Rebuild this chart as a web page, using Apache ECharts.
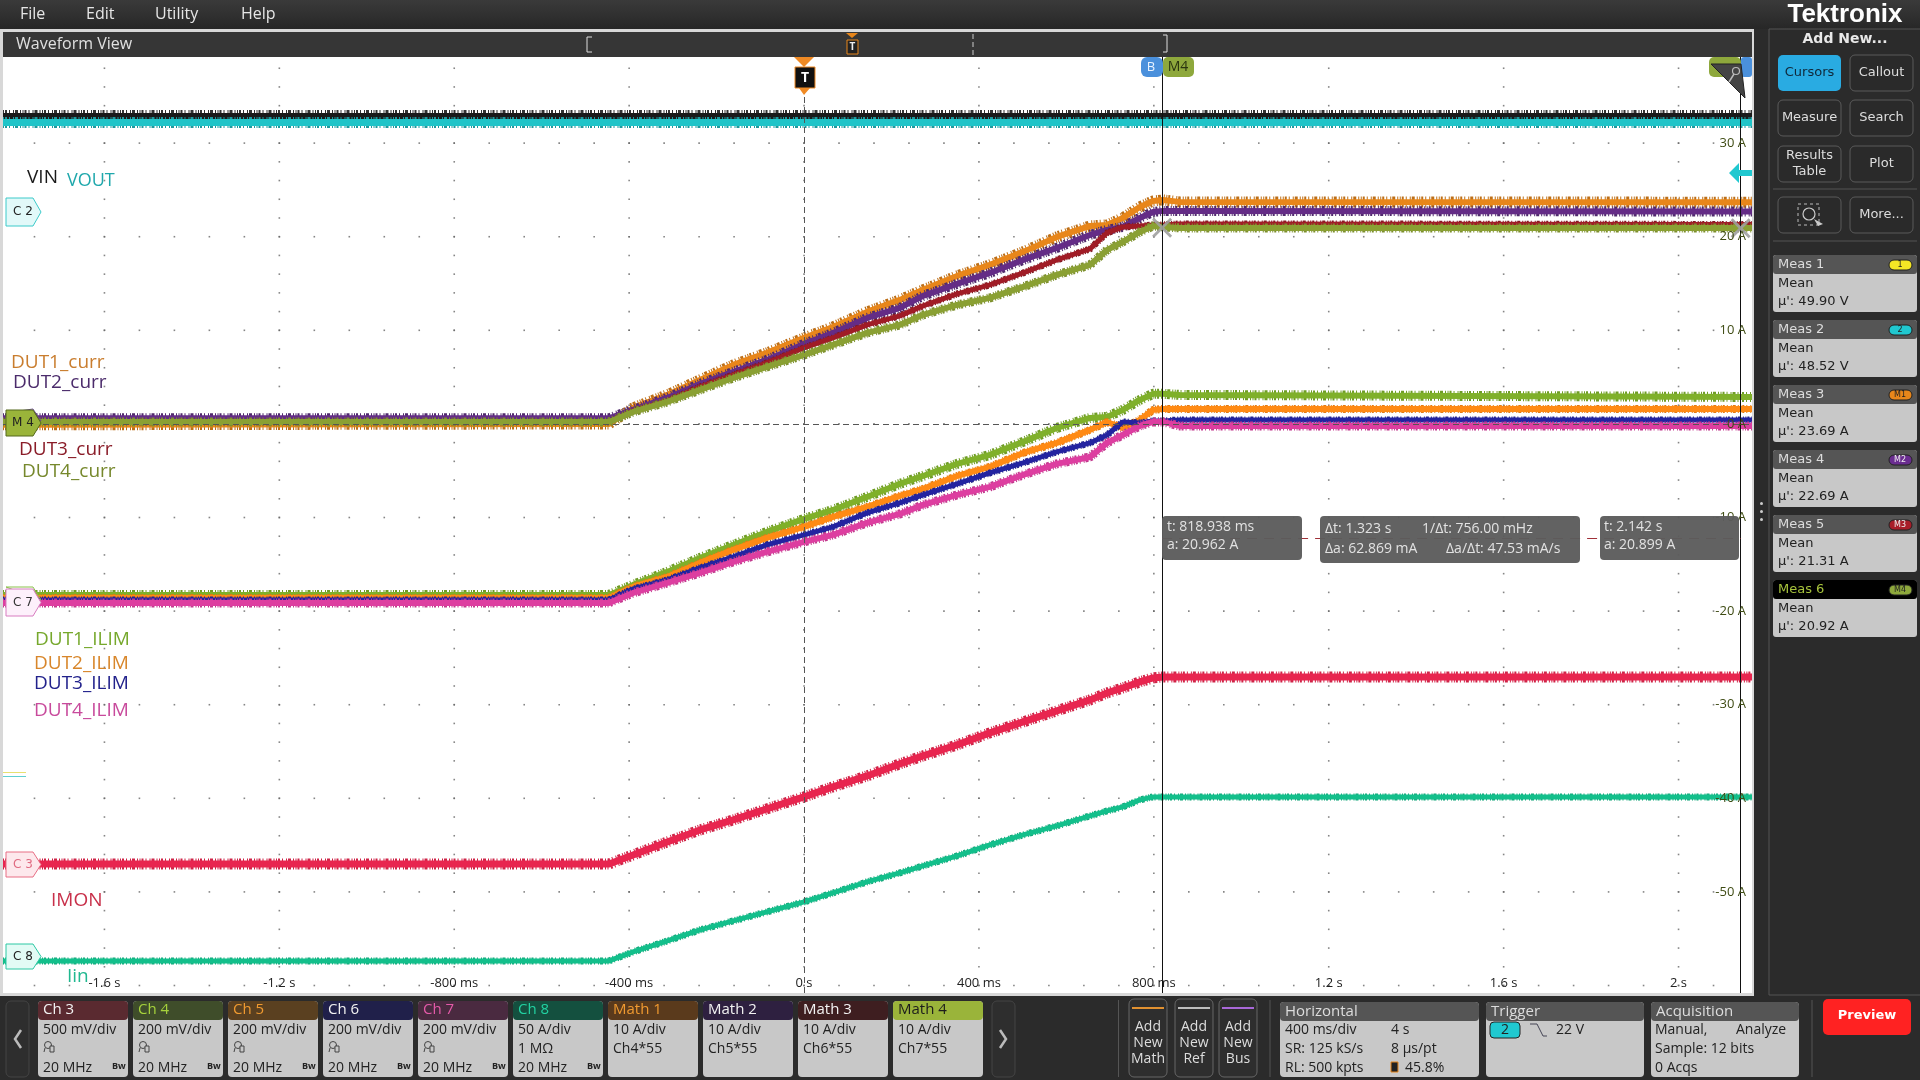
<!DOCTYPE html>
<html>
<head>
<meta charset="utf-8">
<title>Waveform View</title>
<style>
  html, body { margin: 0; padding: 0; background: #2b2b2b; }
  #scope { width: 1920px; height: 1080px; }
</style>
<script src="https://cdn.jsdelivr.net/npm/echarts@6/dist/echarts.min.js"></script>
</head>
<body>
<div id="scope"></div>
<script>
// time base: seconds, 400 ms/div, 45.8% trigger position
const timeMin = -1.832;
const timeMax = 2.168;
const ampMin = -60.8;
const ampMax = 39.2;

const xTicks = [-1.6, -1.2, -0.8, -0.4, 0, 0.4, 0.8, 1.2, 1.6, 2];
const xTickLabels = ['-1.6 s', '-1.2 s', '-800 ms', '-400 ms', '0 s', '400 ms', '800 ms', '1.2 s', '1.6 s', '2 s'];
const yTicks = [30, 20, 10, 0, -10, -20, -30, -40, -50];
const yTickLabels = ['30 A', '20 A', '10 A', '0 A', '-10 A', '-20 A', '-30 A', '-40 A', '-50 A'];
const yGridRows = [30, 20, 10, 0, -10, -20, -30, -40, -50, -60];

// breakpoints shared by all ramping traces
const tNodes = [-1.832, -0.446, -0.391, -0.313, -0.238, -0.162, -0.085, 0, 0.066, 0.144, 0.219, 0.272,
  0.35, 0.425, 0.501, 0.578, 0.654, 0.693, 0.729, 0.768, 0.798, 0.821, 0.859, 2.168];

// values, in A on the M4 scale
const dut1Curr = [-0.1, 0, 1.71, 3.1, 4.7, 6.3, 7.59, 9.19, 10.36, 11.97, 13.25, 14.32,
  15.81, 16.99, 18.38, 19.98, 21.15, 21.26, 22.01, 23.18, 23.82, 23.93, 23.72, 23.69];
const dut2Curr = [0.6, 0.6, 1.5, 2.78, 4.27, 5.56, 6.84, 8.55, 9.72, 11.32, 12.39, 13.68,
  14.96, 16.13, 17.52, 18.8, 20.19, 20.73, 21.05, 22.01, 22.65, 22.76, 22.76, 22.69];
const dut3Curr = [0.21, 0.21, 1.39, 2.46, 3.95, 5.24, 6.52, 8.12, 9.19, 10.58, 11.54, 12.61,
  13.89, 14.85, 16.13, 17.52, 18.7, 20.41, 21.05, 21.15, 21.26, 21.26, 21.37, 21.31];
const dut4Curr = [0.21, 0.21, 1.28, 2.35, 3.63, 4.91, 6.09, 7.37, 8.44, 9.72, 10.58, 11.65,
  12.71, 13.46, 14.64, 15.92, 16.99, 18.59, 19.44, 20.51, 21.15, 21.05, 20.94, 20.92];

const dut1Ilim = [-18.27, -18.27, -17.2, -15.81, -14.32, -12.93, -11.54, -10.15, -9.19, -7.8, -6.41, -5.56,
  -4.27, -3.31, -1.92, -0.43, 0.64, 0.75, 1.5, 2.56, 3.21, 3.21, 3.1, 2.88];
const dut2Ilim = [-18.59, -18.59, -17.41, -16.35, -14.85, -13.46, -12.18, -11.0, -9.94, -8.87, -7.69, -6.94,
  -5.56, -4.59, -3.1, -2.03, -0.64, 0.21, -0.43, 0.43, 1.5, 1.6, 1.6, 1.6];
const dut3Ilim = [-18.8, -18.8, -17.63, -16.67, -15.38, -14.21, -12.93, -11.86, -11.0, -9.51, -8.44, -7.59,
  -6.41, -5.24, -4.17, -2.99, -2.03, -1.18, 0.21, 0.11, 0.32, 0.32, 0.43, 0.43];
const dut4Ilim = [-19.12, -19.12, -18.06, -16.99, -15.92, -14.74, -13.68, -12.61, -11.86, -10.58, -9.62, -8.65,
  -7.59, -6.73, -5.45, -4.27, -3.53, -2.03, -1.18, -0.21, 0.21, 0.21, -0.21, -0.21];

const imon = [-47.01, -47.01, -46.05, -44.66, -43.38, -42.31, -41.13, -39.85, -38.78, -37.61, -36.32, -35.47,
  -34.29, -33.01, -31.84, -30.66, -29.49, -28.74, -28.21, -27.56, -27.14, -27.03, -27.03, -27.03];
const iin = [-57.37, -57.37, -56.41, -55.24, -54.06, -53.1, -52.14, -51.07, -50.11, -48.93, -47.97, -47.22,
  -46.15, -44.98, -43.91, -42.95, -41.88, -41.35, -40.92, -40.17, -39.85, -39.85, -39.85, -39.85];

const vinLevel = [32.9, 32.9];
const voutLevel = [32.2, 32.2];
const railTimes = [-1.832, 2.168];

// cursors: [time, amps]
const cursorA = [0.8189, 20.962];
const cursorB = [2.142, 20.899];
const cursorBarLevel = -12.2;

const channels = [
  { name: 'Ch 3', head: '#5a2a30', ink: '#f2f2f2', lines: ['500 mV/div', '', '20 MHz'] },
  { name: 'Ch 4', head: '#3f4d2a', ink: '#a6d23c', lines: ['200 mV/div', '', '20 MHz'] },
  { name: 'Ch 5', head: '#5a4020', ink: '#f09a30', lines: ['200 mV/div', '', '20 MHz'] },
  { name: 'Ch 6', head: '#20204a', ink: '#f2f2f2', lines: ['200 mV/div', '', '20 MHz'] },
  { name: 'Ch 7', head: '#4a2a40', ink: '#e45aa8', lines: ['200 mV/div', '', '20 MHz'] },
  { name: 'Ch 8', head: '#14503f', ink: '#22d2a2', lines: ['50 A/div', '1 MΩ', '20 MHz'] },
  { name: 'Math 1', head: '#5a3a1c', ink: '#f09a30', lines: ['10 A/div', 'Ch4*55', ''] },
  { name: 'Math 2', head: '#2e2040', ink: '#f2f2f2', lines: ['10 A/div', 'Ch5*55', ''] },
  { name: 'Math 3', head: '#3e1e20', ink: '#f2f2f2', lines: ['10 A/div', 'Ch6*55', ''] },
  { name: 'Math 4', head: '#9ab43a', ink: '#1c1c1c', lines: ['10 A/div', 'Ch7*55', ''] }
];

const measurements = [
  { name: 'Meas 1', value: "µ': 49.90 V", badge: '1', color: '#f5e625', ink: '#222' },
  { name: 'Meas 2', value: "µ': 48.52 V", badge: '2', color: '#20c8d0', ink: '#222' },
  { name: 'Meas 3', value: "µ': 23.69 A", badge: 'M1', color: '#e8861a', ink: '#222' },
  { name: 'Meas 4', value: "µ': 22.69 A", badge: 'M2', color: '#6a2d90', ink: '#eee' },
  { name: 'Meas 5', value: "µ': 21.31 A", badge: 'M3', color: '#a81c28', ink: '#eee' },
  { name: 'Meas 6', value: "µ': 20.92 A", badge: 'M4', color: '#8ea83c', ink: '#222', active: true }
];

const FONT = '"Open Sans", sans-serif';
const PANEL_FONT = '"DejaVu Sans", sans-serif';

function pairs(times, values) {
  return times.map((t, i) => [t, values[i]]);
}

// one trace is a jagged comb behind a solid core, so the band looks sampled
function trace(name, times, values, core, fuzz, coreWidth, fuzzWidth) {
  const data = pairs(times, values);
  const common = { type: 'line', showSymbol: false, silent: true, animation: false, data: data };
  return [
    Object.assign({}, common, {
      name: name + ' envelope',
      lineStyle: { color: fuzz, width: fuzzWidth, cap: 'butt', join: 'bevel', type: [1, 1, 2, 2, 1, 3, 1, 1, 3, 2, 1, 1.5] }
    }),
    Object.assign({}, common, {
      name: name,
      lineStyle: { color: core, width: coreWidth, cap: 'butt' }
    })
  ];
}

// dotted graticule, built from the tick lists
function graticule() {
  const dots = [];
  xTicks.forEach(t => {
    for (let a = 38; a >= -60; a -= 2) dots.push([t, a]);
  });
  yGridRows.forEach(a => {
    for (let t = -1.76; t <= 2.16; t += 0.08) dots.push([t, a]);
  });
  return dots;
}

function tickLabel(values, labels) {
  return v => {
    const i = values.findIndex(x => Math.abs(x - v) < 1e-6);
    return i < 0 ? '' : labels[i];
  };
}

// ---- chrome helpers -------------------------------------------------
const chrome = [];

function box(x, y, w, h, fill, r, stroke, z) {
  chrome.push({
    type: 'rect', silent: true, z: z || 20,
    shape: { x: x, y: y, width: w, height: h, r: r || 0 },
    style: { fill: fill, stroke: stroke || null, lineWidth: stroke ? 1 : 0 }
  });
}

function label(x, y, s, color, size, opts) {
  const o = opts || {};
  chrome.push({
    type: 'text', silent: true, z: o.z || 30, x: x, y: y,
    style: {
      text: s, fill: color,
      fontFamily: o.family || FONT, fontSize: size, fontWeight: o.weight || 'normal',
      align: o.align || 'left', textAlign: o.align || 'left',
      verticalAlign: 'middle', textVerticalAlign: 'middle'
    }
  });
}

function poly(points, fill, stroke, z) {
  chrome.push({
    type: 'polygon', silent: true, z: z || 40,
    shape: { points: points },
    style: { fill: fill, stroke: stroke || null, lineWidth: stroke ? 1 : 0 }
  });
}

function path(points, stroke, width, z, dash) {
  chrome.push({
    type: 'polyline', silent: true, z: z || 30,
    shape: { points: points },
    style: { stroke: stroke, lineWidth: width || 1, fill: null, lineDash: dash || null }
  });
}

function tag(y, h, fill, stroke, text, ink) {
  const x = 6, w = 35, m = y + h / 2;
  poly([[x, y], [x + w - 8, y], [x + w, m], [x + w - 8, y + h], [x, y + h]], fill, stroke, 40);
  label(x + 17, m, text, ink, 12, { align: 'center', z: 41, family: PANEL_FONT });
}

function button(x, y, w, h, lines, fill, ink) {
  box(x, y, w, h, fill || '#2a2a2a', 5, fill ? null : '#5a5a5a');
  const top = y + h / 2 - (lines.length - 1) * 8;
  lines.forEach((s, i) => label(x + w / 2, top + i * 16, s, ink || '#ddd', 13, { align: 'center', family: PANEL_FONT }));
}

function probeIcon(x, y) {
  chrome.push({ type: 'circle', silent: true, z: 30, shape: { cx: x + 5, cy: y - 2, r: 3.5 }, style: { fill: null, stroke: '#444', lineWidth: 1 } });
  box(x + 7, y - 1, 4, 6, '#c8c8c8', 0, '#444', 31);
  path([[x + 2, y + 1], [x + 1, y + 5]], '#444', 1);
}

function buildChrome() {
  // menu bar
  chrome.push({
    type: 'rect', silent: true, z: 5, shape: { x: 0, y: 0, width: 1920, height: 29 },
    style: { fill: new echarts.graphic.LinearGradient(0, 0, 0, 1, [{ offset: 0, color: '#3a3a3a' }, { offset: 1, color: '#272727' }]) }
  });
  label(20, 14, 'File', '#e6e6e6', 16);
  label(86, 14, 'Edit', '#e6e6e6', 16);
  label(155, 14, 'Utility', '#e6e6e6', 16);
  label(241, 14, 'Help', '#e6e6e6', 16);

  // frame round the view and its title bar
  box(0, 29, 3, 966, '#d8d8d8', 0, null, 6);
  box(0, 29, 1754, 3, '#d8d8d8', 0, null, 6);
  box(1752, 29, 2, 966, '#d8d8d8', 0, null, 6);
  box(0, 993, 1754, 3, '#d8d8d8', 0, null, 6);
  box(3, 32, 1749, 25, '#363636', 0, null, 6);
  label(16, 44, 'Waveform View', '#e0e0e0', 16);

  // overview strip marks
  path([[592, 37], [587, 37], [587, 52], [592, 52]], '#ddd', 1);
  path([[973, 34], [973, 56]], '#ccc', 1, 30, [5, 3]);
  path([[1163, 35], [1167, 35], [1167, 52], [1163, 52]], '#ddd', 1, 30);
  poly([[846, 33], [858, 33], [852, 38]], '#e8861a');
  box(847, 40, 11, 14, '#222', 0, '#e8861a', 40);
  label(852.5, 47, 'T', '#eee', 10, { align: 'center', z: 41, weight: 'bold' });

  // trigger flag
  poly([[794, 57], [814, 57], [804, 67]], '#f08a24');
  box(795, 67, 20, 21, '#111', 0, '#f08a24', 40);
  label(805, 78, 'T', '#fff', 14, { align: 'center', z: 41, weight: 'bold' });
  poly([[799, 88], [810, 88], [804, 95]], '#f08a24');

  // cursor flags at the top of the plot
  box(1141, 57, 22, 20, '#4a90dc', 6, null, 40);
  label(1151, 67, 'B', '#e8f2ff', 13, { align: 'center', z: 41 });
  box(1163, 57, 31, 20, '#8ea83c', 5, null, 40);
  label(1178, 67, 'M4', '#2a3410', 14, { align: 'center', z: 41 });
  box(1709, 57, 32, 20, '#8ea83c', 5, null, 40);
  box(1741, 57, 11, 20, '#4a90dc', 3, null, 40);
  poly([[1711, 64], [1741, 64], [1745, 98]], '#444', '#222', 42);
  chrome.push({ type: 'circle', silent: true, z: 43, shape: { cx: 1736, cy: 71, r: 3.5 }, style: { fill: null, stroke: '#bbb', lineWidth: 1.2 } });
  path([[1734, 74], [1729, 82]], '#bbb', 1.5, 43);

  // channel 2 offset arrow on the right edge
  poly([[1729, 173], [1739, 163], [1739, 170], [1752, 170], [1752, 176], [1739, 176], [1739, 183]], '#20c8d0');

  // channel handles
  tag(198, 28, '#e2f9f9', '#3ccaca', 'C 2', '#222');
  poly([[6, 413], [33, 409], [41, 421]], 'none', '#6a4a90', 39);
  tag(410, 26, '#9ab43a', '#55691c', 'M 4', '#222');
  poly([[6, 587], [33, 587], [41, 600]], 'none', '#8ac04a', 39);
  tag(589, 27, '#fdf0fb', '#d87cc0', 'C 7', '#333');
  tag(852, 25, '#fde8ec', '#e86e84', 'C 3', '#e06a80');
  tag(944, 25, '#e2fbf5', '#2cc8a4', 'C 8', '#222');

  // trace names
  label(27, 178, 'VIN', '#1a1a1a', 19);
  label(67, 181, 'VOUT', '#1fa8ac', 18);
  label(11, 363, 'DUT1_curr', '#c97d2e', 19);
  label(13, 383, 'DUT2_curr', '#4b2b6b', 19);
  label(19, 450, 'DUT3_curr', '#8a1c28', 19);
  label(22, 472, 'DUT4_curr', '#76882c', 19);
  label(35, 640, 'DUT1_ILIM', '#76a82c', 19);
  label(34, 664, 'DUT2_ILIM', '#d8862a', 19);
  label(34, 684, 'DUT3_ILIM', '#22228c', 19);
  label(34, 711, 'DUT4_ILIM', '#c84a9c', 19);
  label(51, 901, 'IMON', '#c8304a', 19);
  label(67, 977, 'Iin', '#20b890', 19);

  // stray reference ticks on the left edge
  box(3, 772, 23, 1, '#e8e070', 0, null, 30);
  box(3, 776, 23, 1, '#60d0d0', 0, null, 30);

  // cursor readouts
  const read = 'rgba(92,92,92,0.96)';
  box(1162, 516, 140, 44, read, 4, null, 60);
  label(1167, 527, 't: 818.938 ms', '#e2e2e2', 14, { z: 61 });
  label(1167, 545, 'a: 20.962 A', '#e2e2e2', 14, { z: 61 });
  box(1320, 516, 260, 47, read, 4, null, 60);
  label(1325, 529, 'Δt: 1.323 s', '#e2e2e2', 14, { z: 61 });
  label(1422, 529, '1/Δt: 756.00 mHz', '#e2e2e2', 14, { z: 61 });
  label(1325, 549, 'Δa: 62.869 mA', '#e2e2e2', 14, { z: 61 });
  label(1446, 549, 'Δa/Δt: 47.53 mA/s', '#e2e2e2', 14, { z: 61 });
  box(1600, 516, 139, 44, read, 4, null, 60);
  label(1604, 527, 't: 2.142 s', '#e2e2e2', 14, { z: 61 });
  label(1604, 545, 'a: 20.899 A', '#e2e2e2', 14, { z: 61 });

  // right hand panel
  path([[1920, 29], [1769, 29], [1769, 995], [1920, 995]], '#555', 1);
  label(1845, 15, 'Tektronix', '#fff', 26, { align: 'center', weight: 'bold', family: '"Liberation Sans", sans-serif' });
  label(1845, 39, 'Add New...', '#e8e8e8', 14, { align: 'center', weight: 'bold', family: PANEL_FONT });
  button(1778, 55, 63, 36, ['Cursors'], '#29abe2', '#10283a');
  button(1850, 55, 63, 36, ['Callout']);
  button(1778, 100, 63, 36, ['Measure']);
  button(1850, 100, 63, 36, ['Search']);
  button(1778, 146, 63, 36, ['Results', 'Table']);
  button(1850, 146, 63, 36, ['Plot']);
  path([[1773, 189], [1917, 189]], '#555', 1);
  button(1778, 197, 63, 36, []);
  button(1850, 197, 63, 36, ['More...']);
  path([[1773, 241], [1917, 241]], '#555', 1);
  box(1798, 204, 21, 21, 'none', 0, '#bbb', 31);
  chrome[chrome.length - 1].style.lineDash = [3, 3];
  chrome.push({ type: 'circle', silent: true, z: 32, shape: { cx: 1809, cy: 214, r: 6 }, style: { fill: '#2a2a2a', stroke: '#ccc', lineWidth: 1.2 } });
  poly([[1814, 219], [1823, 224], [1818, 226]], '#ccc', null, 32);

  measurements.forEach((m, i) => {
    const y = 255 + i * 65;
    box(1773, y, 144, 57, '#c8c8c8', 3);
    box(1773, y, 144, 19, m.active ? '#000' : '#555', 3, null, 21);
    label(1778, y + 10, m.name, m.active ? '#a6c23c' : '#ddd', 13, { family: PANEL_FONT });
    box(1889, y + 5, 23, 10, m.color, 5, '#222', 22);
    label(1900, y + 10, m.badge, m.ink, 8, { align: 'center', family: PANEL_FONT });
    label(1778, y + 29, 'Mean', '#222', 13, { family: PANEL_FONT });
    label(1778, y + 47, m.value, '#222', 13, { family: PANEL_FONT });
  });
  [503, 511, 519].forEach(y => box(1760, y - 1, 3, 3, '#ccc', 1.5));

  // badge strip along the bottom
  box(6, 1001, 23, 76, '#2e2e2e', 5, '#444');
  path([[21, 1030], [15, 1039], [21, 1048]], '#bbb', 2.5);
  channels.forEach((c, i) => {
    const x = 38 + i * 95;
    box(x, 1001, 90, 76, '#c8c8c8', 4);
    box(x, 1001, 90, 19, c.head, 4, null, 21);
    label(x + 5, 1010, c.name, c.ink, 15);
    label(x + 5, 1030, c.lines[0], '#222', 14);
    if (c.lines[1]) label(x + 5, 1049, c.lines[1], '#222', 14);
    else probeIcon(x + 5, 1047);
    if (c.lines[2]) {
      label(x + 5, 1068, c.lines[2], '#222', 14);
      label(x + 74, 1066, 'Bw', '#222', 9, { weight: 'bold' });
    }
  });
  box(992, 1001, 23, 76, '#2e2e2e', 5, '#444');
  path([[1000, 1030], [1006, 1039], [1000, 1048]], '#bbb', 2.5);

  path([[1118.5, 1000], [1118.5, 1077]], '#555', 1);
  [['Math', '#e09030', 1129], ['Ref', '#bdbdbd', 1175], ['Bus', '#a868d8', 1219]].forEach(a => {
    box(a[2], 999, 38, 78, '#2e2e2e', 5, '#666');
    box(a[2] + 3, 1007, 32, 2, a[1], 0, null, 31);
    label(a[2] + 19, 1027, 'Add', '#ddd', 14, { align: 'center' });
    label(a[2] + 19, 1043, 'New', '#ddd', 14, { align: 'center' });
    label(a[2] + 19, 1059, a[0], '#ddd', 14, { align: 'center' });
  });
  path([[1270, 1000], [1270, 1077]], '#555', 1);

  const sect = (x, w, title) => {
    box(x, 1002, w, 75, '#c8c8c8', 4);
    box(x, 1002, w, 19, '#555', 4, null, 21);
    label(x + 5, 1012, title, '#ddd', 15);
  };
  sect(1280, 199, 'Horizontal');
  label(1285, 1030, '400 ms/div', '#222', 14);
  label(1391, 1030, '4 s', '#222', 14);
  label(1285, 1049, 'SR: 125 kS/s', '#222', 14);
  label(1391, 1049, '8 µs/pt', '#222', 14);
  label(1285, 1068, 'RL: 500 kpts', '#222', 14);
  box(1391, 1062, 7, 10, '#222', 0, '#e8861a', 31);
  label(1405, 1068, '45.8%', '#222', 14);

  sect(1486, 158, 'Trigger');
  box(1490, 1022, 30, 16, '#20c8d0', 4, '#222', 31);
  label(1505, 1030, '2', '#222', 14, { align: 'center', z: 32 });
  path([[1530, 1024], [1537, 1024], [1543, 1036], [1547, 1036]], '#445', 1);
  label(1556, 1030, '22 V', '#222', 14);

  sect(1651, 148, 'Acquisition');
  label(1655, 1030, 'Manual,', '#222', 14);
  label(1736, 1030, 'Analyze', '#222', 14);
  label(1655, 1049, 'Sample: 12 bits', '#222', 14);
  label(1655, 1068, '0 Acqs', '#222', 14);

  path([[1812, 1000], [1812, 1077]], '#555', 1);
  box(1823, 999, 88, 36, '#ff2222', 5);
  label(1867, 1016, 'Preview', '#fff', 13, { align: 'center', weight: 'bold', family: PANEL_FONT });
}

// ---- chart ----------------------------------------------------------
const chart = echarts.init(document.getElementById('scope'), null, { renderer: 'canvas' });
buildChrome();

const series = [
  {
    type: 'scatter', name: 'graticule', silent: true, animation: false, z: 1,
    symbol: 'rect', symbolSize: 1.6, itemStyle: { color: '#666' }, data: graticule()
  }
].concat(
  trace('VIN', railTimes, vinLevel, '#1a1a1a', '#333', 6, 12),
  trace('VOUT', railTimes, voutLevel, '#1fc4c8', '#1f9a9e', 7, 11),
  trace('DUT1_curr', tNodes, dut1Curr, '#e8861a', '#bd6f18', 6, 11),
  trace('DUT2_curr', tNodes, dut2Curr, '#642c86', '#4f2a6c', 6, 10),
  trace('DUT3_curr', tNodes, dut3Curr, '#a01c26', '#7e1a22', 5, 7),
  trace('DUT4_curr', tNodes, dut4Curr, '#8aa033', '#7d8f2e', 6, 9),
  trace('DUT1_ILIM', tNodes, dut1Ilim, '#7fb02a', '#6f9c26', 6, 10),
  trace('DUT2_ILIM', tNodes, dut2Ilim, '#ff8a14', '#e27a12', 6, 8),
  trace('DUT3_ILIM', tNodes, dut3Ilim, '#2323a0', '#23238a', 5, 7),
  trace('DUT4_ILIM', tNodes, dut4Ilim, '#dd3ea0', '#c23a8e', 6, 9),
  trace('IMON', tNodes, imon, '#e8254f', '#cf2548', 7, 11),
  trace('Iin', tNodes, iin, '#13bf8b', '#14a67a', 5, 7)
);

// reference lines and cursors go on top of the traces
series.push({
  type: 'line', name: 'reference', silent: true, animation: false, data: [], z: 8,
  markLine: {
    silent: true, symbol: 'none', animation: false, label: { show: false },
    data: [
      { xAxis: 0, lineStyle: { color: '#555', type: [6, 4], width: 1 } },
      { yAxis: 0, lineStyle: { color: '#555', type: [6, 4], width: 1 } },
      { xAxis: cursorA[0], lineStyle: { color: '#111', type: 'solid', width: 1 } },
      { xAxis: cursorB[0], lineStyle: { color: '#111', type: 'solid', width: 1 } },
      [
        { coord: [cursorA[0], cursorBarLevel], lineStyle: { color: '#a03038', type: [10, 7], width: 1 } },
        { coord: [cursorB[0], cursorBarLevel] }
      ]
    ]
  }
});
series.push({
  type: 'scatter', name: 'cursor marks', silent: true, animation: false, z: 9,
  symbol: 'path://M1 0L5 4L9 0L10 1L6 5L10 9L9 10L5 6L1 10L0 9L4 5L0 1Z',
  symbolSize: 20, itemStyle: { color: '#a0a0a0', opacity: 0.9 },
  data: [cursorA, cursorB]
});

chart.setOption({
  animation: false,
  backgroundColor: '#2b2b2b',
  grid: { left: 3, right: 168, top: 57, bottom: 87, backgroundColor: '#ffffff', show: true, borderWidth: 0 },
  xAxis: {
    type: 'value', min: timeMin, max: timeMax, z: 10,
    axisLine: { show: false }, axisTick: { show: false }, splitLine: { show: false },
    axisLabel: {
      inside: true, margin: 3, color: '#222', fontSize: 13, fontFamily: FONT,
      customValues: xTicks, formatter: tickLabel(xTicks, xTickLabels)
    }
  },
  yAxis: {
    type: 'value', min: ampMin, max: ampMax, position: 'right', z: 10,
    axisLine: { show: false }, axisTick: { show: false }, splitLine: { show: false },
    axisLabel: {
      inside: true, margin: 6, color: '#3f4c14', fontSize: 13, fontFamily: FONT,
      customValues: yTicks, formatter: tickLabel(yTicks, yTickLabels)
    }
  },
  series: series,
  graphic: { elements: chrome }
});
</script>
</body>
</html>
